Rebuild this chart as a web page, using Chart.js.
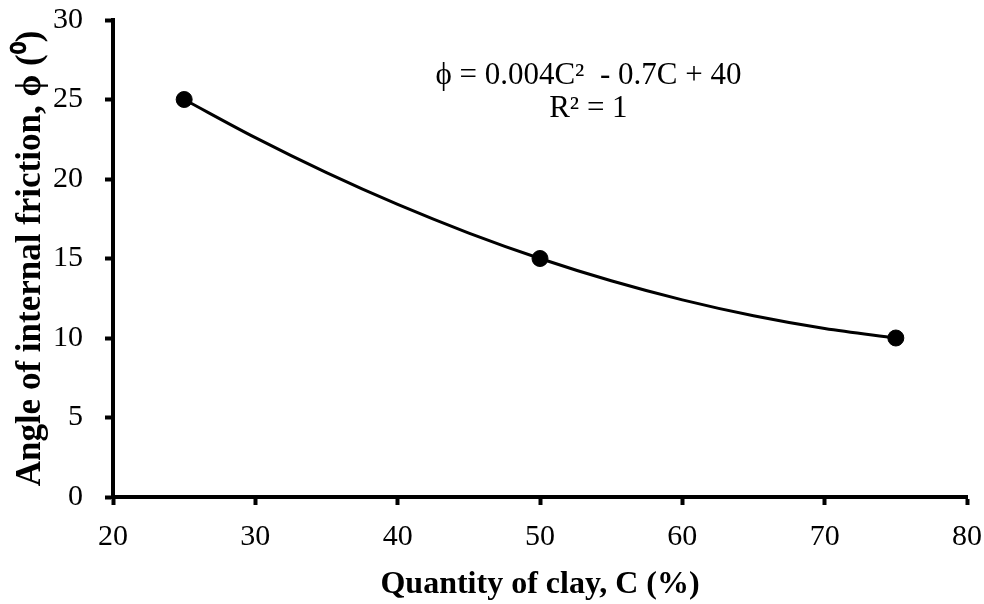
<!DOCTYPE html>
<html>
<head>
<meta charset="utf-8">
<script src="https://cdn.jsdelivr.net/npm/chart.js@4"></script>
<style>
  html, body { margin: 0; padding: 0; background: #fff; }
  #wrap { width: 984px; height: 604px; }
</style>
</head>
<body>
<div id="wrap"><canvas id="frictionChart" width="984" height="604"></canvas></div>
<script>
/* Data */
const clayPct = [25, 50, 75];
const frictionAngle = [25, 15, 10];
// trend curve
const trendClay = [25, 30, 35, 40, 45, 50, 55, 60, 65, 70, 75];
const trendAngle = [25, 22.6, 20.4, 18.4, 16.6, 15, 13.6, 12.4, 11.4, 10.6, 10];
const xTicks = [20, 30, 40, 50, 60, 70, 80];
const yTicks = [0, 5, 10, 15, 20, 25, 30];
const equationLines = ["\u03D5 = 0.004C\u00B2  - 0.7C + 40", "R\u00B2 = 1"];

const SERIF = "'Liberation Serif', 'Times New Roman', serif";

const points = clayPct.map((c, i) => ({ x: c, y: frictionAngle[i] }));
const trend = trendClay.map((c, i) => ({ x: c, y: trendAngle[i] }));

// writes the trend equation in the upper middle of the plot
const equationPlugin = {
  id: "equation",
  afterDraw(chart) {
    const { ctx, scales } = chart;
    ctx.save();
    ctx.fillStyle = "#000";
    ctx.font = "31px " + SERIF;
    ctx.textAlign = "center";
    ctx.textBaseline = "middle";
    const cx = scales.x.getPixelForValue(53.4);
    ctx.fillText(equationLines[0], cx, scales.y.getPixelForValue(26.5));
    ctx.fillText(equationLines[1], cx, scales.y.getPixelForValue(24.4));
    ctx.restore();
  },
};

const ctx = document.getElementById("frictionChart");

new Chart(ctx, {
  type: "scatter",
  data: {
    datasets: [
      {
        label: "Trend",
        data: trend,
        showLine: true,
        cubicInterpolationMode: "monotone",
        borderColor: "#000",
        borderWidth: 3,
        pointRadius: 0,
        fill: false,
      },
      {
        label: "Measured",
        data: points,
        showLine: false,
        pointRadius: 8,
        pointBackgroundColor: "#000",
        pointBorderColor: "#000",
      },
    ],
  },
  options: {
    responsive: false,
    animation: false,
    layout: { padding: { top: 20, right: 17, left: 0, bottom: 0 } },
    plugins: {
      legend: { display: false },
      tooltip: { enabled: false },
    },
    scales: {
      x: {
        type: "linear",
        min: 20,
        max: 80,
        afterBuildTicks: (scale) => {
          scale.ticks = xTicks.map((v) => ({ value: v }));
        },
        afterFit: (scale) => {
          scale.height = 107;
          scale.paddingLeft = 0;
          scale.paddingRight = 0;
        },
        border: { display: true, color: "#000", width: 4 },
        grid: {
          drawOnChartArea: false,
          drawTicks: true,
          tickLength: 8,
          tickWidth: 4,
          tickColor: "#000",
        },
        ticks: {
          color: "#000",
          padding: 14,
          font: { family: SERIF, size: 30, lineHeight: 1.2 },
        },
        title: {
          display: true,
          text: "Quantity of clay, C (%)",
          color: "#000",
          padding: { top: 0, bottom: 0 },
          font: { family: SERIF, size: 32, weight: "bold", lineHeight: 1.2 },
        },
      },
      y: {
        type: "linear",
        min: 0,
        max: 30,
        afterBuildTicks: (scale) => {
          scale.ticks = yTicks.map((v) => ({ value: v }));
        },
        afterFit: (scale) => {
          scale.width = 113;
          scale.paddingTop = 0;
          scale.paddingBottom = 0;
        },
        border: { display: true, color: "#000", width: 4 },
        grid: {
          drawOnChartArea: false,
          drawTicks: true,
          tickLength: 8,
          tickWidth: 4,
          tickColor: "#000",
        },
        ticks: {
          color: "#000",
          padding: 22,
          font: { family: SERIF, size: 30, lineHeight: 1.2 },
        },
        title: {
          display: true,
          text: "Angle of internal friction, \u03D5 (\u2070)",
          color: "#000",
          padding: { top: 10, bottom: 0 },
          font: { family: SERIF, size: 35, weight: "bold", lineHeight: 1.2 },
        },
      },
    },
  },
  plugins: [equationPlugin],
});
</script>
</body>
</html>
